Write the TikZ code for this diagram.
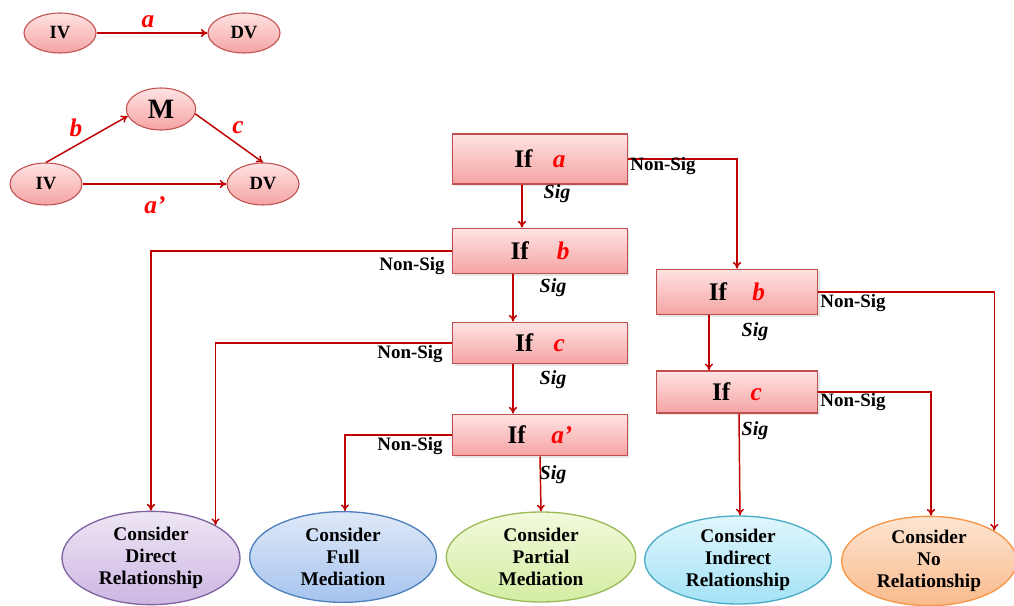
\documentclass[tikz,border=0pt]{standalone}
\usepackage{fontspec}
\setmainfont{Liberation Serif}
\usetikzlibrary{shapes.geometric,arrows.meta,shadows}

\definecolor{linkred}{HTML}{C00000}
\definecolor{letred}{HTML}{FF0000}
\definecolor{boxedge}{HTML}{C0504D}
\definecolor{boxtop}{HTML}{FFE3E3}
\definecolor{boxbot}{HTML}{F5A3A3}
\definecolor{purpedge}{HTML}{8064A2}
\definecolor{purptop}{HTML}{EEE6F5}
\definecolor{purpbot}{HTML}{CDB6E2}
\definecolor{blueedge}{HTML}{4F81BD}
\definecolor{bluetop}{HTML}{DFE9F8}
\definecolor{bluebot}{HTML}{A6C3EE}
\definecolor{grnedge}{HTML}{9BBB59}
\definecolor{grntop}{HTML}{F2FADC}
\definecolor{grnbot}{HTML}{D3EDA2}
\definecolor{cyanedge}{HTML}{4BACC6}
\definecolor{cyantop}{HTML}{E0F6FC}
\definecolor{cyanbot}{HTML}{A3E2F6}
\definecolor{orgedge}{HTML}{F79646}
\definecolor{orgtop}{HTML}{FDE5D2}
\definecolor{orgbot}{HTML}{F9BA8C}

\newcommand{\coefl}[1]{{\color{letred}\itshape #1}}

\begin{document}
\begin{tikzpicture}[x=0.75pt, y=-0.75pt, >={To[length=5pt,width=6pt]},
  ifbox/.style={rectangle, draw=boxedge, line width=1pt, top color=boxtop, bottom color=boxbot,
    minimum width=131pt, inner sep=0pt, font=\fontsize{19}{22}\selectfont\bfseries,
    drop shadow={opacity=0.2, shadow xshift=1.5pt, shadow yshift=-1.5pt}},
  var/.style={ellipse, draw=boxedge, line width=0.8pt, top color=boxtop, bottom color=boxbot,
    minimum width=54pt, minimum height=30pt, inner sep=0pt, font=\fontsize{14}{16}\selectfont\bfseries},
  outcome/.style={ellipse, line width=1pt, inner sep=0pt, align=center,
    font=\fontsize{14.5}{16.5}\selectfont\bfseries},
  link/.style={->, draw=linkred, line width=1.1pt},
  sig/.style={font=\fontsize{15}{17}\selectfont\bfseries\itshape},
  nonsig/.style={font=\fontsize{14.2}{16}\selectfont\bfseries},
  coef/.style={text=letred, font=\fontsize{19}{21}\selectfont\bfseries\itshape}]

  \useasboundingbox (0,0) rectangle (1014,606);

  % --- 1. simple and mediated model ---
  \node[var] (ivA) at (60,33) {IV};
  \node[var] (dvA) at (244,33) {DV};
  \draw[link] (ivA.east) -- (dvA.west);
  \node[coef] (labA) at (148,22) {a};

  \node[var, minimum width=52pt, minimum height=31.5pt, font=\fontsize{21}{23}\selectfont\bfseries] (med) at (161,109) {M};
  \node[var, minimum height=31.5pt] (ivB) at (46,184) {IV};
  \node[var, minimum height=31.5pt] (dvB) at (263,184) {DV};
  \draw[link] (ivB.north) -- (med.192);
  \draw[link] (med.-8) -- (dvB.north);
  \draw[link] (ivB.east) -- (dvB.west);
  \node[coef] (labB) at (76,128) {b};
  \node[coef] (labC) at (238,128) {c};
  \node[coef] (labAp) at (155,205) {a’};

  % --- 2. decision boxes ---
  \node[ifbox, minimum height=37.5pt] (ifa) at (540,159) {If\hspace{0.8em}\coefl{a}};
  \node[ifbox, minimum height=34pt] (ifb) at (540,251) {If\hspace{1.1em}\coefl{b}};
  \node[ifbox, minimum height=31pt] (ifc) at (540,343) {If\hspace{0.8em}\coefl{c}};
  \node[ifbox, minimum height=31pt] (ifap) at (540,435) {If\hspace{1em}\coefl{a’}};
  \node[ifbox, minimum width=121pt, minimum height=34pt] (rifb) at (737,292) {If\hspace{1em}\coefl{b}};
  \node[ifbox, minimum width=121pt, minimum height=31.5pt] (rifc) at (737,392) {If\hspace{0.8em}\coefl{c}};

  % --- 3. outcomes ---
  \node[outcome, draw=purpedge, top color=purptop, bottom color=purpbot,
    minimum width=133.5pt, minimum height=70pt] (direct) at (151,558) {Consider\\Direct\\Relationship};
  \node[outcome, draw=blueedge, top color=bluetop, bottom color=bluebot,
    minimum width=140pt, minimum height=68pt] (full) at (343,557) {Consider\\Full\\Mediation};
  \node[outcome, draw=grnedge, top color=grntop, bottom color=grnbot,
    minimum width=142pt, minimum height=67.5pt] (partial) at (541,557) {Consider\\Partial\\Mediation};
  \node[outcome, draw=cyanedge, top color=cyantop, bottom color=cyanbot,
    minimum width=140pt, minimum height=66pt] (indirect) at (738,560) {Consider\\Indirect\\Relationship};
  \node[outcome, draw=orgedge, top color=orgtop, bottom color=orgbot,
    minimum width=131pt, minimum height=67pt] (none) at (929,561) {Consider\\No\\Relationship};

  % --- 4. connectors ---
  \draw[link] ([xshift=-13.5pt]ifa.south) -- ([xshift=-13.5pt]ifb.north);
  \draw[link] (ifa.east) -| (rifb.north);
  \draw[link] (ifb.west) -| (direct.north);
  \draw[link] ([xshift=-20.25pt]ifb.south) -- ([xshift=-20.25pt]ifc.north);
  \draw[link] (ifc.west) -| (direct.27);
  \draw[link] ([xshift=-20.25pt]ifc.south) -- ([xshift=-20.25pt]ifap.north);
  \draw[link] (ifap.west) -| ([xshift=1.5pt]full.north);
  \draw[link] (ifap.south) -- (partial.north);
  \draw[link] ([xshift=-21pt]rifb.south) -- ([xshift=-21pt]rifc.north);
  \draw[link] (rifb.east) -| (none.25);
  \draw[link] (rifc.east) -| ([xshift=1.5pt]none.north);
  \draw[link] ([xshift=1.5pt]rifc.south) -- ([xshift=1.5pt]indirect.north);

  % --- 5. Sig / Non-Sig labels ---
  \node[sig] (sa) at (557,194) {Sig};
  \node[sig] (sb) at (553,288) {Sig};
  \node[sig] (sc) at (553,380) {Sig};
  \node[sig] (sap) at (553,475) {Sig};
  \node[sig] (rsb) at (755,332) {Sig};
  \node[sig] (rsc) at (755,431) {Sig};

  \node[nonsig] (na) at (663,166) {Non-Sig};
  \node[nonsig] (nb) at (412,266) {Non-Sig};
  \node[nonsig] (nc) at (410,354) {Non-Sig};
  \node[nonsig] (nap) at (410,446) {Non-Sig};
  \node[nonsig] (rnb) at (853,303) {Non-Sig};
  \node[nonsig] (rnc) at (853,402) {Non-Sig};

\end{tikzpicture}
\end{document}
